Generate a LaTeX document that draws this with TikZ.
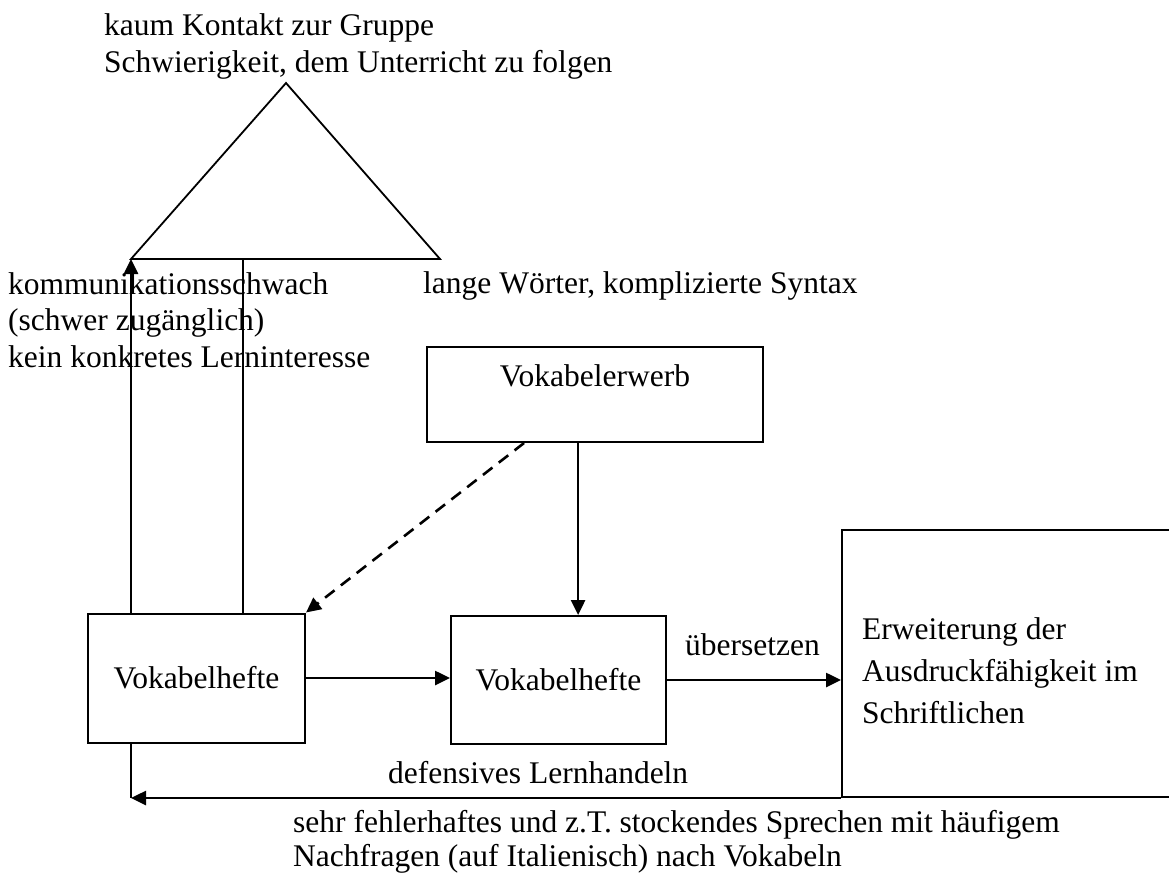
\documentclass[tikz,border=0pt]{standalone}
\usepackage{fontspec}
\setmainfont{Liberation Serif}
\usetikzlibrary{arrows.meta,calc}
\begin{document}
\begin{tikzpicture}[x=1pt,y=-1pt,
  txt/.style={font=\fontsize{31.5}{36.5}\selectfont, inner sep=0pt, align=left},
  box/.style={draw, line width=2pt, inner sep=0pt},
  conn/.style={line width=2.6pt},
  arr/.style={conn, -{Triangle[length=15pt,width=14pt]}},
]
\useasboundingbox (0,0) rectangle (1169,879);
\clip (0,0) rectangle (1169,879);

% triangle of difficulties
\coordinate (ta) at (286,83);
\coordinate (tl) at (131,259);
\coordinate (tr) at (440,259);
\coordinate (tm) at (243,259);
\draw[line width=1.8pt, line join=miter] (tl) -- (ta) -- (tr) -- cycle;

% boxes
\node[box, minimum width=217pt, minimum height=129pt, font=\fontsize{31.5}{36.5}\selectfont] (lb) at (196.5,678) {Vokabelhefte};
\node[box, minimum width=215pt, minimum height=128pt, font=\fontsize{31.5}{36.5}\selectfont] (mb) at (558.5,680) {Vokabelhefte};
\node[box, minimum width=336pt, minimum height=95pt] (ve) at (595,394.5) {};
\node[txt, anchor=base] (vet) at ($(ve.north)+(0,40)$) {Vokabelerwerb};
\node[box, minimum width=348pt, minimum height=267pt] (rb) at (1016,663.5) {};
% multi-line texts: anchor base west sits on the last line's baseline
\node[txt, anchor=base west, font=\fontsize{31.5}{42}\selectfont] (rbt) at (862,723)
  {Erweiterung der\\Ausdruckfähigkeit im\\Schriftlichen};

% labels
\node[txt, anchor=base west, font=\fontsize{31.5}{37}\selectfont] (top) at (104,72) {kaum Kontakt zur Gruppe\\Schwierigkeit, dem Unterricht zu folgen};
\node[txt, anchor=base west] (left) at (8,367) {kommunikationsschwach\\(schwer zugänglich)\\kein konkretes Lerninteresse};
\node[txt, anchor=base west] (right) at (423,293) {lange Wörter, komplizierte Syntax};
\node[txt, anchor=base west] (ueb) at (685,655) {übersetzen};
\node[txt, anchor=base west] (def) at (388,783) {defensives Lernhandeln};
\node[txt, anchor=base west, font=\fontsize{31.5}{34}\selectfont] (bot) at (293,866)
  {sehr fehlerhaftes und z.T. stockendes Sprechen mit häufigem\\Nachfragen (auf Italienisch) nach Vokabeln};

% connectors
\draw[arr] (tl |- lb.north) -- (tl);
\draw[conn] (tm |- lb.north) -- (tm);
\coordinate (vs) at ($(ve.south west)!0.45!(ve.south east)$);
\draw[arr] (vs) -- (vs |- mb.north);
\coordinate (vd) at ($(ve.south west)!0.29!(ve.south east)$);
\draw[arr, dash pattern=on 12pt off 8pt] (vd) -- (lb.north east);
\draw[arr] (lb.east) -- (lb.east -| mb.west);
\draw[arr] (mb.east) -- (mb.east -| rb.west);
\coordinate (bl) at (tl |- rb.south);
\draw[conn] (tl |- lb.south) -- (bl);
\draw[arr] (rb.south west) -- (bl);
\end{tikzpicture}
\end{document}
